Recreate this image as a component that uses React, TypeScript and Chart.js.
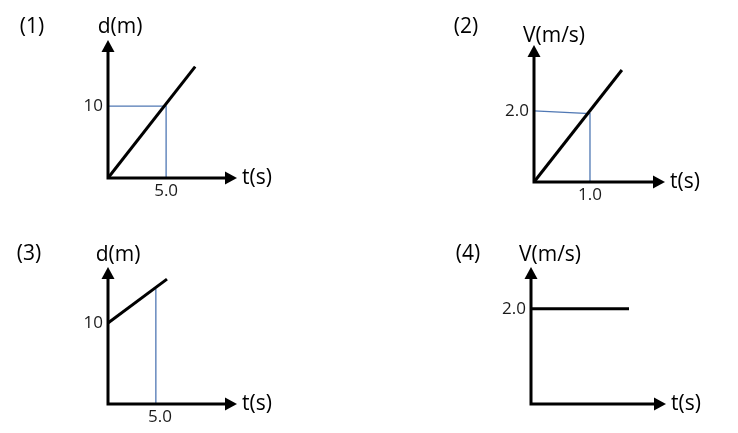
import React, { useEffect, useRef } from 'react';
import { Chart, registerables } from 'chart.js';

Chart.register(...registerables);

// ---------- Data ----------
// Panel (1): d–t graph
const p1Line = [{ x: 0, y: 0 }, { x: 7.5, y: 15.5 }];
const p1Guide = [{ x: 0, y: 10 }, { x: 5, y: 10 }, { x: 5, y: 0 }];
const p1XTicks = [5.0];
const p1YTicks = [10];
const p1XMax = 11.1;
const p1YMax = 19.2;

// Panel (2): V–t graph
const p2Line = [{ x: 0, y: 0 }, { x: 1.57, y: 3.18 }];
const p2Guide = [{ x: 0, y: 2.02 }, { x: 1.0, y: 1.94 }, { x: 1.0, y: 0 }];
const p2XTicks = [1.0];
const p2YTicks = [2.0];
const p2XMax = 2.34;
const p2YMax = 3.89;

// Panel (3): d–t graph, starting at 10 m
const p3Line = [{ x: 0, y: 10 }, { x: 5.67, y: 15.4 }];
const p3Guide = [{ x: 4.6, y: 14.2 }, { x: 4.6, y: 0 }];
const p3XTicks = [5.0];
const p3YTicks = [10];
const p3XMax = 12.4;
const p3YMax = 16.9;

// Panel (4): V–t graph, constant velocity
const p4Line = [{ x: 0, y: 2.0 }, { x: 9.8, y: 2.0 }];
const p4Guide: { x: number; y: number }[] = [];
const p4XTicks: number[] = [];
const p4YTicks = [2.0];
const p4XMax = 13.5;
const p4YMax = 2.88;

const panelLabels = ['(1)', '(2)', '(3)', '(4)'];
const yTitles = ['d(m)', 'V(m/s)', 'd(m)', 'V(m/s)'];
const xTitle = 't(s)';

// ---------- Layout ----------
const W = 369;
const H = 216;
const YAXIS_W = 50;
const XAXIS_H = 30;
const FONT = '"Open Sans", "DejaVu Sans", sans-serif';
const BLUE = '#5078b4';

type Pt = { x: number; y: number };

interface PanelDef {
  line: Pt[];
  guide: Pt[];
  xTicks: number[];
  yTicks: number[];
  xMax: number;
  yMax: number;
  label: string;
  yTitle: string;
  area: { left: number; right: number; top: number; bottom: number };
  labelPos: { x: number; y: number };
  yTitleOff: { dx: number; dy: number };
  fmtX: (v: number) => string;
  fmtY: (v: number) => string;
}

const fmt1 = (v: number) => v.toFixed(1);
const fmt0 = (v: number) => String(v);

const panels: PanelDef[] = [
  {
    line: p1Line, guide: p1Guide, xTicks: p1XTicks, yTicks: p1YTicks,
    xMax: p1XMax, yMax: p1YMax, label: panelLabels[0], yTitle: yTitles[0],
    area: { left: 108, right: 237, top: 40, bottom: 178 },
    labelPos: { x: 32, y: 27 },
    yTitleOff: { dx: 12, dy: -13 },
    fmtX: fmt1, fmtY: fmt0,
  },
  {
    line: p2Line, guide: p2Guide, xTicks: p2XTicks, yTicks: p2YTicks,
    xMax: p2XMax, yMax: p2YMax, label: panelLabels[1], yTitle: yTitles[1],
    area: { left: 165, right: 296, top: 45, bottom: 182 },
    labelPos: { x: 97, y: 27 },
    yTitleOff: { dx: 20, dy: -9 },
    fmtX: fmt1, fmtY: fmt1,
  },
  {
    line: p3Line, guide: p3Guide, xTicks: p3XTicks, yTicks: p3YTicks,
    xMax: p3XMax, yMax: p3YMax, label: panelLabels[2], yTitle: yTitles[2],
    area: { left: 108, right: 237, top: 51, bottom: 188 },
    labelPos: { x: 29, y: 38 },
    yTitleOff: { dx: 10, dy: -12 },
    fmtX: fmt1, fmtY: fmt0,
  },
  {
    line: p4Line, guide: p4Guide, xTicks: p4XTicks, yTicks: p4YTicks,
    xMax: p4XMax, yMax: p4YMax, label: panelLabels[3], yTitle: yTitles[3],
    area: { left: 162, right: 297, top: 51, bottom: 188 },
    labelPos: { x: 99, y: 38 },
    yTitleOff: { dx: 19, dy: -12 },
    fmtX: fmt1, fmtY: fmt1,
  },
];

// Draws the axes with arrowheads and the text annotations
const decorPlugin = {
  id: 'decor',
  afterDraw(chart: any, _args: any, opts: any) {
    const { ctx } = chart;
    const xs = chart.scales.x;
    const ys = chart.scales.y;
    const ox = xs.getPixelForValue(0);
    const oy = ys.getPixelForValue(0);
    const tipX = xs.getPixelForValue(xs.max);
    const tipY = ys.getPixelForValue(ys.max);
    const ah = 12;
    const aw = 6.5;
    ctx.save();
    ctx.strokeStyle = '#000';
    ctx.fillStyle = '#000';
    ctx.lineWidth = 3;
    ctx.lineCap = 'square';
    ctx.beginPath();
    ctx.moveTo(ox, tipY + ah - 1);
    ctx.lineTo(ox, oy);
    ctx.lineTo(tipX - ah + 1, oy);
    ctx.stroke();
    // y arrow
    ctx.beginPath();
    ctx.moveTo(ox, tipY);
    ctx.lineTo(ox - aw, tipY + ah);
    ctx.lineTo(ox + aw, tipY + ah);
    ctx.closePath();
    ctx.fill();
    // x arrow
    ctx.beginPath();
    ctx.moveTo(tipX, oy);
    ctx.lineTo(tipX - ah, oy - aw);
    ctx.lineTo(tipX - ah, oy + aw);
    ctx.closePath();
    ctx.fill();

    ctx.font = `21px ${FONT}`;
    ctx.textAlign = 'center';
    ctx.textBaseline = 'middle';
    ctx.fillText(opts.label, opts.labelPos.x, opts.labelPos.y);
    ctx.fillText(opts.yTitle, ox + opts.yTitleOff.dx, tipY + opts.yTitleOff.dy);
    ctx.fillText(opts.xTitle, tipX + 20, oy);
    ctx.restore();
  },
};

function Panel({ def }: { def: PanelDef }) {
  const ref = useRef<HTMLCanvasElement>(null);
  useEffect(() => {
    if (!ref.current) return;
    const pad = {
      left: def.area.left - YAXIS_W,
      right: W - def.area.right,
      top: def.area.top,
      bottom: H - def.area.bottom - XAXIS_H,
    };
    const chart = new Chart(ref.current, {
      type: 'scatter',
      data: {
        datasets: [
          {
            data: def.line,
            showLine: true,
            borderColor: '#000',
            borderWidth: 3,
            pointRadius: 0,
            clip: false as any,
          },
          {
            data: def.guide,
            showLine: true,
            borderColor: BLUE,
            borderWidth: 1.3,
            pointRadius: 0,
            clip: false as any,
          },
        ],
      },
      options: {
        responsive: false,
        animation: false,
        events: [],
        layout: { padding: pad },
        plugins: {
          legend: { display: false },
          tooltip: { enabled: false },
          decor: {
            label: def.label,
            labelPos: def.labelPos,
            yTitle: def.yTitle,
            yTitleOff: def.yTitleOff,
            xTitle,
          },
        } as any,
        scales: {
          x: {
            type: 'linear',
            min: 0,
            max: def.xMax,
            grid: { display: false, drawTicks: false },
            border: { display: false },
            afterBuildTicks: (s: any) => {
              s.ticks = def.xTicks.map((v) => ({ value: v }));
            },
            afterFit: (s: any) => {
              s.height = XAXIS_H;
            },
            ticks: {
              padding: 3,
              maxRotation: 0,
              autoSkip: false,
              color: '#1a1a1a',
              font: { family: FONT, size: 17 },
              callback: (v: any) => def.fmtX(Number(v)),
            },
          },
          y: {
            type: 'linear',
            min: 0,
            max: def.yMax,
            grid: { display: false, drawTicks: false },
            border: { display: false },
            afterBuildTicks: (s: any) => {
              s.ticks = def.yTicks.map((v) => ({ value: v }));
            },
            afterFit: (s: any) => {
              s.width = YAXIS_W;
            },
            ticks: {
              padding: 5,
              autoSkip: false,
              color: '#1a1a1a',
              font: { family: FONT, size: 17 },
              callback: (v: any) => def.fmtY(Number(v)),
            },
          },
        },
      },
      plugins: [decorPlugin],
    });
    return () => chart.destroy();
  }, [def]);
  return (
    <canvas
      ref={ref}
      width={W}
      height={H}
      style={{ width: W, height: H, display: 'block' }}
    />
  );
}

export default function App() {
  useEffect(() => {
    document.body.style.margin = '0';
    document.body.style.background = '#fff';
  }, []);
  return (
    <div
      style={{
        display: 'grid',
        gridTemplateColumns: `${W}px ${W}px`,
        gridTemplateRows: `${H}px ${H}px`,
        width: 738,
        height: 433,
        background: '#fff',
      }}
    >
      {panels.map((p, i) => (
        <Panel key={i} def={p} />
      ))}
    </div>
  );
}
